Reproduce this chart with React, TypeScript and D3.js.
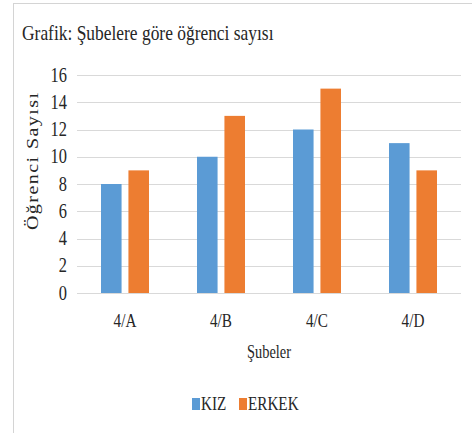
import React from "react";
import { scaleBand, scaleLinear } from "d3";

const categories = ["4/A", "4/B", "4/C", "4/D"];
const seriesNames = ["KIZ", "ERKEK"];
const kiz = [8, 10, 12, 11];
const erkek = [9, 13, 15, 9];
const yTicks = [0, 2, 4, 6, 8, 10, 12, 14, 16];
const colors = ["#5B9BD5", "#ED7D31"];

const W = 472;
const H = 433;
const plot = { left: 77, right: 461, top: 75, bottom: 293 };
const font = "'Liberation Serif', 'Times New Roman', serif";
const textColor = "#262626";
const sx = 0.8; // the picture looks squeezed sideways

// helper for condensed text
const T = (props: any) => {
  const { x, y, size, anchor, children, scale } = props;
  return (
    <text
      transform={`translate(${x},${y}) scale(${scale ?? sx},1)`}
      fontFamily={font}
      fontSize={size}
      textAnchor={anchor || "start"}
      fill={textColor}
    >
      {children}
    </text>
  );
};

export default function App() {
  const x0 = scaleBand<string>()
    .domain(categories)
    .range([plot.left, plot.right])
    .padding(0);
  const bw = x0.bandwidth();
  const x1 = scaleBand<string>()
    .domain(seriesNames)
    .range([bw * 0.25, bw * 0.75])
    .paddingInner(0.25)
    .paddingOuter(0);
  const y = scaleLinear().domain([0, 16]).range([plot.bottom, plot.top]);
  const values = [kiz, erkek];

  return (
    <svg
      width={W}
      height={H}
      style={{ position: "absolute", left: 0, top: 0, background: "#fff" }}
    >
      <rect x={0} y={0} width={W} height={H} fill="#fff" />
      <rect
        x={13.5}
        y={3.5}
        width={W}
        height={H}
        fill="none"
        stroke="#d4d4d4"
        strokeWidth={1}
      />
      <T x={22} y={40} size={21} scale={0.83}>
        Grafik: Şubelere göre öğrenci sayısı
      </T>

      {yTicks.map((t) => (
        <g key={t}>
          <line
            x1={plot.left}
            x2={plot.right}
            y1={Math.round(y(t)) + 0.5}
            y2={Math.round(y(t)) + 0.5}
            stroke="#d9d9d9"
            strokeWidth={1}
          />
          <T x={67} y={y(t) + 6.5} size={20} anchor="end" scale={0.82}>
            {t}
          </T>
        </g>
      ))}

      {categories.map((c, i) => (
        <g key={c} transform={`translate(${x0(c)},0)`}>
          {seriesNames.map((s, j) => (
            <rect
              key={s}
              x={x1(s)}
              y={y(values[j][i])}
              width={x1.bandwidth()}
              height={y(0) - y(values[j][i])}
              fill={colors[j]}
            />
          ))}
        </g>
      ))}

      {categories.map((c) => (
        <T key={c} x={(x0(c) as number) + bw / 2} y={327} size={19} anchor="middle">
          {c}
        </T>
      ))}

      <T x={(plot.left + plot.right) / 2} y={358} size={18} anchor="middle">
        Şubeler
      </T>

      <text
        transform={`translate(38,${(93 + 230) / 2}) rotate(-90) scale(1,0.8)`}
        fontFamily={font}
        fontSize={20}
        textAnchor="middle"
        fill={textColor}
        textLength={137}
        lengthAdjust="spacing"
      >
        Öğrenci Sayısı
      </text>

      {/* legend */}
      {seriesNames.map((s, j) => {
        const lx = [192, 239][j];
        return (
          <g key={s}>
            <rect x={lx} y={398} width={8} height={12} fill={colors[j]} />
            <T x={lx + 9} y={410} size={19}>
              {s}
            </T>
          </g>
        );
      })}
    </svg>
  );
}
